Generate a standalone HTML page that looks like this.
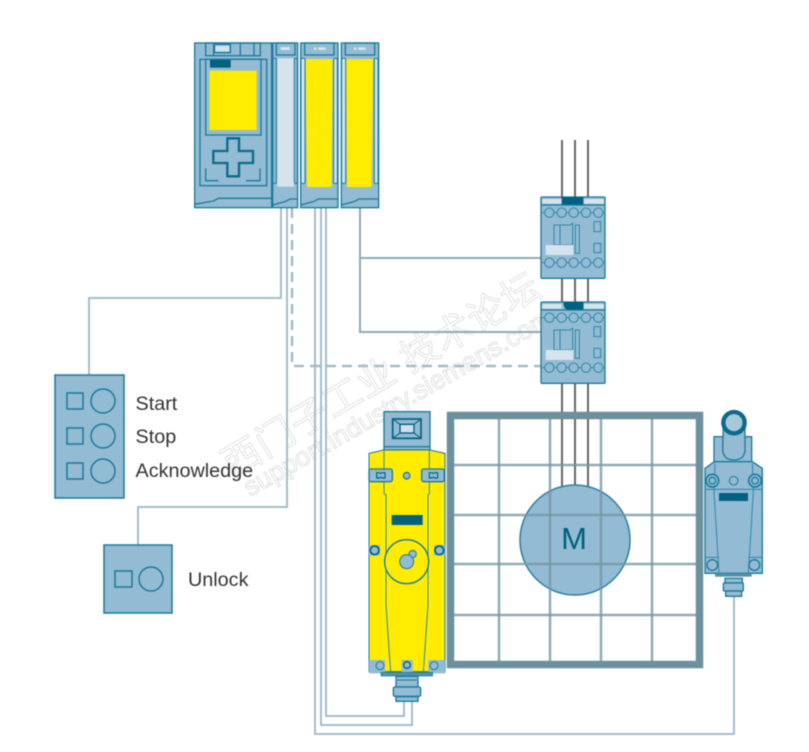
<!DOCTYPE html>
<html><head><meta charset="utf-8"><style>
html,body{margin:0;padding:0;background:#fff}
svg{display:block;filter:blur(.45px)}
text{font-family:"Liberation Sans","Noto Sans CJK SC",sans-serif}
.b{fill:#93bbd3;stroke:#1a7a9c;stroke-width:4}
.n{fill:none;stroke:#1a7a9c;stroke-width:4}
.t{fill:none;stroke:#2f87a6;stroke-width:3}
.d{fill:#00607f}
.y{fill:#ffec00}
.l{fill:#d5e4ec}
.w{fill:none;stroke:#a5bcc7;stroke-width:2}
.k{fill:none;stroke:#666;stroke-width:2}
.lbl{font-size:19.800px;fill:#333}
</style></head><body>
<svg width="809" height="752" viewBox="0 0 809 752" xmlns="http://www.w3.org/2000/svg">
<rect width="809" height="752" fill="#fff"/>

<!-- watermark -->
<g fill="none" stroke="#e2e2e2" stroke-width="1">
<text transform="translate(232,478) rotate(-30.500)" font-size="38" letter-spacing="1">西门子工业 技术论坛</text>
<text transform="translate(250,497) rotate(-29.700)" font-size="26.500">support.industry.siemens.com</text>
</g>

<!-- wires -->
<g class="w">
<path d="M281 208V298H89V375"/>
<path d="M287 208V507H138V545"/>
<path d="M292 208V366H541" style="stroke-width:2.500;stroke-dasharray:10 6"/>
<path d="M315 208V734H734V597"/>
<path d="M321 208V725H412V702"/>
<path d="M326 208V716H404V702"/>
<path d="M360 208V332H541" style="stroke:#8faab6"/>
<path d="M360 258H541" style="stroke:#8faab6"/>
</g>
<g class="k">
<path d="M562 140V197M575 140V197M588 140V197"/>
<path d="M562 278V302M575 278V302M588 278V302"/>
<path d="M562 383V487M575 383V486M588 383V487"/>
</g>

<!-- motor and guard grid -->
<circle cx="575" cy="540" r="55" fill="#93bbd3" stroke="#2a7f9f" stroke-width="1.500"/>
<g fill="none" stroke="#7596a3" stroke-opacity=".8" stroke-width="2.500">
<path d="M499 412V668M550 412V668M601 412V668M652 412V668"/>
<path d="M447 465H703M447 515H703M447 564H703M447 615H703"/>
</g>
<rect x="450.500" y="415.500" width="249" height="249" fill="none" stroke="#6d909e" stroke-width="7.500"/>
<text x="574" y="549" text-anchor="middle" font-size="31" fill="#00607f">M</text>

<!-- PLC -->
<g transform="translate(185,35) scale(.33333)">
<rect class="b" x="29" y="24" width="231" height="494"/>
<rect class="n" x="62" y="24" width="164" height="38"/>
<path class="n" d="M86 24V60M166 24V60M207 24V60"/>
<rect class="n" x="88" y="28" width="48" height="25"/>
<rect class="l" x="92" y="33" width="41" height="16"/>
<rect class="n" x="45" y="73" width="200" height="379"/>
<rect class="n" x="62" y="73" width="166" height="227"/>
<rect class="y" x="73" y="107" width="142" height="178"/>
<rect class="d" x="75" y="75" width="62" height="23"/>
<path d="M127 310H162V348H204V384H162V424H127V384H85V348H127Z" fill="none" stroke="#0c6a8a" stroke-width="7"/>
<path class="n" d="M62 400V437H100M225 400V437H183"/>
<path class="n" d="M29 508L85 498L100 490H260"/>

<rect class="b" x="263" y="24" width="75" height="494"/>
<rect class="n" x="274" y="24" width="56" height="36"/>
<rect class="l" x="287" y="36" width="27" height="9"/>
<rect class="l" x="277" y="70" width="50" height="385"/>
<rect class="n" x="263" y="70" width="11" height="375" rx="3" style="stroke-width:3"/>
<rect class="n" x="328" y="70" width="9" height="375" rx="3" style="stroke-width:3"/>
<path class="n" d="M263 510L300 500L315 492H338"/>

<rect class="b" x="347" y="24" width="112" height="494"/>
<rect class="n" x="359" y="24" width="88" height="36"/>
<rect class="l" x="387" y="37" width="7" height="8"/><rect class="l" x="400" y="37" width="22" height="8"/>
<path class="y" d="M362 72H443L440 456H366Z"/>
<rect class="l" x="348" y="70" width="12" height="375" rx="3" stroke="#1a7a9c" stroke-width="3"/>
<rect class="l" x="446" y="70" width="11" height="375" rx="3" stroke="#1a7a9c" stroke-width="3"/>
<path class="n" d="M347 510L385 500L400 492H459"/>

<rect class="b" x="469" y="24" width="112" height="494"/>
<rect class="n" x="481" y="24" width="88" height="36"/>
<rect class="l" x="507" y="37" width="7" height="8"/><rect class="l" x="520" y="37" width="22" height="8"/>
<path class="y" d="M483 72H564L560 456H486Z"/>
<rect class="l" x="470" y="70" width="12" height="375" rx="3" stroke="#1a7a9c" stroke-width="3"/>
<rect class="l" x="568" y="70" width="11" height="375" rx="3" stroke="#1a7a9c" stroke-width="3"/>
<path class="n" d="M469 510L507 500L522 492H581"/>
</g>

<!-- contactor top -->
<g transform="translate(530,190) scale(.33333)">
<rect class="b" x="33" y="21" width="192" height="244" rx="3"/>
<rect class="l" x="37" y="27" width="58" height="14"/><rect class="l" x="162" y="27" width="60" height="14"/>
<rect class="d" x="95" y="21" width="65" height="24"/>
<path class="n" d="M33 45H225"/>
<path class="t" d="M33 68H225M33 218H225"/>
<g style="fill:#93bbd3;stroke:#2f87a6;stroke-width:3">
<circle cx="58" cy="68" r="14"/><circle cx="95" cy="68" r="14"/><circle cx="131" cy="68" r="14"/><circle cx="168" cy="68" r="14"/><circle cx="205" cy="68" r="14"/>
<circle cx="58" cy="218" r="14"/><circle cx="95" cy="218" r="14"/><circle cx="131" cy="218" r="14"/><circle cx="168" cy="218" r="14"/><circle cx="205" cy="218" r="14"/></g>
<path class="t" d="M72 105H90V165H72ZM90 105H120L128 100V165H90ZM136 105H148V190H136Z"/>
<path class="t" d="M192 95H212V125H192ZM192 160H212V188H192Z"/>
<rect class="l" x="47" y="165" width="83" height="30"/>
</g>
<!-- contactor bottom -->
<g transform="translate(530,295) scale(.33333)">
<rect class="b" x="33" y="21" width="192" height="244" rx="3"/>
<rect class="l" x="37" y="27" width="58" height="14"/><rect class="l" x="162" y="27" width="60" height="14"/>
<path class="d" d="M100 21H160V45H115Q102 45 100 21Z"/>
<path class="n" d="M33 45H225"/>
<path class="t" d="M33 68H225M33 218H225"/>
<g style="fill:#93bbd3;stroke:#2f87a6;stroke-width:3">
<circle cx="58" cy="68" r="14"/><circle cx="95" cy="68" r="14"/><circle cx="131" cy="68" r="14"/><circle cx="168" cy="68" r="14"/><circle cx="205" cy="68" r="14"/>
<circle cx="58" cy="218" r="14"/><circle cx="95" cy="218" r="14"/><circle cx="131" cy="218" r="14"/><circle cx="168" cy="218" r="14"/><circle cx="205" cy="218" r="14"/></g>
<path class="t" d="M72 105H90V165H72ZM90 105H120L128 100V165H90ZM136 105H148V190H136Z"/>
<path class="t" d="M192 95H212V125H192ZM192 160H212V188H192Z"/>
<rect class="l" x="47" y="165" width="83" height="30"/>
</g>

<!-- button boxes -->
<g fill="none" stroke="#1a7a9c" stroke-width="1.500">
<rect x="55" y="375" width="69" height="123" fill="#93bbd3"/>
<rect x="67" y="393" width="16" height="16"/><circle cx="103" cy="401" r="12"/>
<rect x="67" y="428" width="16" height="16"/><circle cx="103" cy="436" r="12"/>
<rect x="67" y="463" width="16" height="16"/><circle cx="103" cy="471" r="12"/>
<rect x="104" y="545" width="68" height="68" fill="#93bbd3"/>
<rect x="115" y="571" width="17" height="16"/><circle cx="151" cy="579" r="12"/>
</g>
<text class="lbl" x="135.500" y="410">Start</text>
<text class="lbl" x="135.500" y="443">Stop</text>
<text class="lbl" x="135.500" y="477">Acknowledge</text>
<text class="lbl" x="188" y="586">Unlock</text>

<!-- safety door switch -->
<g transform="translate(360,405) scale(.33333)">
<rect class="b" x="72" y="20" width="138" height="115" stroke-width="3"/>
<path class="n" d="M72 125H210"/>
<rect x="98" y="42" width="85" height="58" fill="none" stroke="#00607f" stroke-width="5"/>
<path d="M98 42L120 58H162L183 42M98 100L120 84H162L183 100" fill="none" stroke="#00607f" stroke-width="3"/>
<rect x="120" y="58" width="42" height="26" fill="#cfe0ea" stroke="#00607f" stroke-width="4"/>
<path class="y" d="M27 145L70 135H210L255 145V800H27Z" stroke="#1a7a9c" stroke-width="3"/>
<path class="t" d="M72 135V265L78 270V600L92 802M208 135V265L204 270V600L190 802"/>
<rect class="b" x="27" y="192" width="70" height="38" rx="6" stroke-width="3"/>
<rect class="b" x="185" y="192" width="68" height="38" rx="6" stroke-width="3"/>
<path d="M50 203H58Q62 208 66 203H75V219H66Q62 214 58 219H50ZM208 203H216Q220 208 224 203H233V219H224Q220 214 216 219H208Z" fill="none" stroke="#00607f" stroke-width="3.500"/>
<circle cx="140" cy="212" r="10" fill="#93bbd3" stroke="#00607f" stroke-width="3"/>
<rect class="d" x="95" y="330" width="93" height="30"/>
<path d="M27 420H60V452H27ZM222 420H255V452H222Z" fill="#93bbd3"/>
<circle cx="44" cy="436" r="13" fill="#93bbd3" stroke="#00607f" stroke-width="5"/>
<circle cx="238" cy="436" r="13" fill="#93bbd3" stroke="#00607f" stroke-width="5"/>
<circle cx="140" cy="470" r="66" fill="#ffec00" stroke="#1a7a9c" stroke-width="4"/>
<circle cx="158" cy="447" r="11" fill="#93bbd3" stroke="#1a7a9c" stroke-width="3"/>
<circle cx="140" cy="470" r="21" fill="#93bbd3" stroke="#1a7a9c" stroke-width="3"/>
<path d="M27 765H75V805H27ZM205 765H255V805H205ZM125 765H158V802H125Z" fill="#93bbd3"/>
<circle cx="60" cy="782" r="12" fill="#93bbd3" stroke="#1a7a9c" stroke-width="3"/>
<circle cx="222" cy="782" r="12" fill="#93bbd3" stroke="#1a7a9c" stroke-width="3"/>
<circle cx="141" cy="780" r="10" fill="#93bbd3" stroke="#00607f" stroke-width="4"/>
<rect x="63" y="802" width="155" height="11" fill="#4f90ab" stroke="#1a7a9c" stroke-width="2"/>
<rect class="b" x="108" y="814" width="66" height="32" stroke-width="5"/>
<path d="M112 825H170" stroke="#1a7a9c" stroke-width="3"/>
<rect class="b" x="100" y="846" width="82" height="28" rx="5" stroke-width="5"/>
<rect class="b" x="108" y="875" width="66" height="14" stroke-width="5"/>
</g>

<!-- limit switch -->
<g transform="translate(695,400) scale(.33333)">
<rect class="b" x="57" y="110" width="113" height="80" stroke-width="3"/>
<path class="b" d="M85 70H150V150Q148 180 117 180Q85 180 83 150Z" stroke-width="3"/>
<circle cx="117" cy="68" r="32" fill="#a8c8da" stroke="#0c6a8a" stroke-width="13"/>
<path class="b" d="M30 205L58 185H172L202 205V520H30Z" stroke-width="3"/>
<path class="t" d="M60 190L57 275L72 520M172 190L175 275L160 520M30 268H202"/>
<circle cx="52" cy="242" r="19" fill="#93bbd3" stroke="#1a7a9c" stroke-width="5"/><circle cx="52" cy="242" r="10" fill="none" stroke="#1a7a9c" stroke-width="4"/>
<circle cx="180" cy="242" r="19" fill="#93bbd3" stroke="#1a7a9c" stroke-width="5"/><circle cx="180" cy="242" r="10" fill="none" stroke="#1a7a9c" stroke-width="4"/>
<circle cx="116" cy="242" r="13" fill="#93bbd3" stroke="#1a7a9c" stroke-width="3"/>
<rect class="d" x="72" y="279" width="87" height="24"/>
<path class="t" d="M30 472H72M160 472H202"/>
<circle cx="52" cy="495" r="16" fill="#93bbd3" stroke="#1a7a9c" stroke-width="4"/>
<circle cx="178" cy="495" r="16" fill="#93bbd3" stroke="#1a7a9c" stroke-width="4"/>
<rect x="60" y="520" width="110" height="10" fill="#4f90ab"/>
<rect class="b" x="90" y="535" width="52" height="14" stroke-width="3"/>
<rect class="b" x="85" y="549" width="60" height="24" rx="3" stroke-width="3"/>
<rect class="b" x="92" y="573" width="48" height="16" stroke-width="3"/>
</g>
</svg>
</body></html>
